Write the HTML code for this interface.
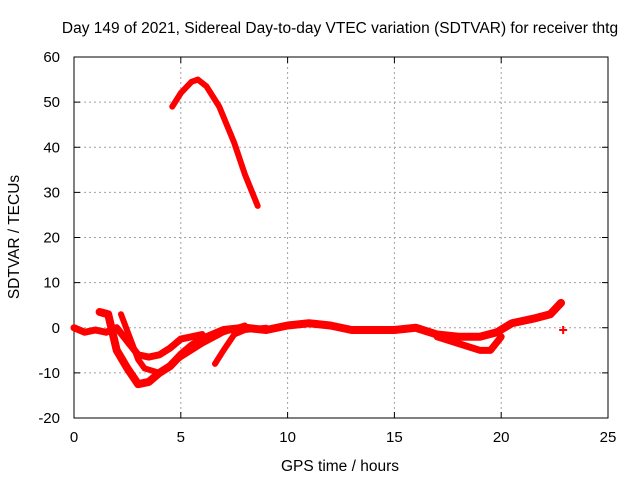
<!DOCTYPE html>
<html><head><meta charset="utf-8"><style>
body{margin:0;background:#fff;}
svg{display:block;font-family:"Liberation Sans",sans-serif;}
</style></head><body>
<svg id="chart" width="640" height="480">
<text x="340" y="33" font-size="15.5" text-anchor="middle" fill="#000">Day 149 of 2021, Sidereal Day-to-day VTEC variation (SDTVAR) for receiver thtg</text>
<text x="340" y="471" font-size="15.5" text-anchor="middle">GPS time / hours</text>
<text transform="translate(19,237) rotate(-90)" font-size="15.5" text-anchor="middle">SDTVAR / TECUs</text>
<g id="grid"></g><g id="axes"></g><g id="series"></g>
</svg>
<script>
const xTicks=[0,5,10,15,20,25];
const yTicks=[-20,-10,0,10,20,30,40,50,60];
const traceA=[[4.6,49],[5,52],[5.5,54.5],[5.8,55],[6.2,53.5],[6.8,49],[7.5,41],[8,34],[8.6,27]];
const traceB=[[0,0],[0.5,-1],[1,-0.5],[1.5,-1],[2,0],[2.5,-3],[3,-6],[3.5,-6.5],[4,-6],[4.5,-4.5],[5,-2.5],[5.5,-2],[6,-1.5]];
const traceC=[[1.2,3.5],[1.6,3],[2,-5],[2.5,-9],[3,-12.5],[3.5,-12],[4,-10],[4.5,-8.5],[5,-6],[5.5,-4],[6,-2.5],[6.5,-1.5],[7,-0.5],[8,0],[9,-0.5],[10,0.5],[11,1],[12,0.5],[13,-0.5],[14,-0.5],[15,-0.5],[16,0],[17,-1.5],[18,-2],[19,-2],[19.8,-1],[20.5,1],[21.5,2],[22.3,3],[22.8,5.5]];
const traceD=[[2.2,3],[2.6,-2],[3,-7],[3.3,-9],[4,-10],[5,-6.5],[6,-3.5],[7,-1],[8,0.5]];
const traceE=[[6.6,-8],[7,-5],[7.5,-1.5],[8,-0.5],[9,0]];
const traceF=[[17,-2],[18,-3.5],[19,-5],[19.5,-5],[20,-2]];
const traceG=[[22.9,-0.5]];
const X0=74,X1=608,Y0=418,Y1=57;
const xs=h=>X0+(h-0)/25*(X1-X0);
const ys=v=>Y0-(v+20)/80*(Y0-Y1);
const NS='http://www.w3.org/2000/svg';
const g=document.getElementById('grid'),ax=document.getElementById('axes'),se=document.getElementById('series');
function mk(t,a,p){const e=document.createElementNS(NS,t);for(const k in a)e.setAttribute(k,a[k]);p.appendChild(e);return e;}
xTicks.forEach(t=>{const x=xs(t);
 if(t>0&&t<25){const l=mk('line',{x1:x,x2:x,y1:Y1,y2:Y0,stroke:'#a0a0a0','stroke-dasharray':'2,3'},g);
 
 }
 mk('line',{x1:x,x2:x,y1:Y0,y2:Y0-6,stroke:'#000'},ax);mk('line',{x1:x,x2:x,y1:Y1,y2:Y1+6,stroke:'#000'},ax);
 const tx=mk('text',{x:x,y:Y0+24,'font-size':15,'text-anchor':'middle'},ax);tx.textContent=t;
 
 });
yTicks.forEach(t=>{const y=ys(t);
 if(t>-20&&t<60){const l=mk('line',{x1:X0,x2:X1,y1:y,y2:y,stroke:'#a0a0a0','stroke-dasharray':'2,3'},g);
 
 }
 mk('line',{x1:X0,x2:X0+6,y1:y,y2:y,stroke:'#000'},ax);mk('line',{x1:X1,x2:X1-6,y1:y,y2:y,stroke:'#000'},ax);
 const tx=mk('text',{x:X0-14,y:y+5,'font-size':15,'text-anchor':'end'},ax);tx.textContent=t;
 
 });
const fr=mk('rect',{x:X0,y:Y1,width:X1-X0,height:Y0-Y1,fill:'none',stroke:'#000'},ax);


[[traceA,6],[traceB,7],[traceC,8],[traceD,6],[traceE,6],[traceF,7]].forEach(([tr,w])=>{
 const p=mk('polyline',{points:tr.map(d=>xs(d[0])+','+ys(d[1])).join(' '),fill:'none',stroke:'#ff0000','stroke-width':w,'stroke-linejoin':'round','stroke-linecap':'round'},se);
 
 });
traceG.forEach(d=>{const c=mk('path',{d:`M${xs(d[0])-4},${ys(d[1])}h8M${xs(d[0])},${ys(d[1])-4}v8`,stroke:'#ff0000','stroke-width':2},se);
 
 });
</script>
</body></html>
